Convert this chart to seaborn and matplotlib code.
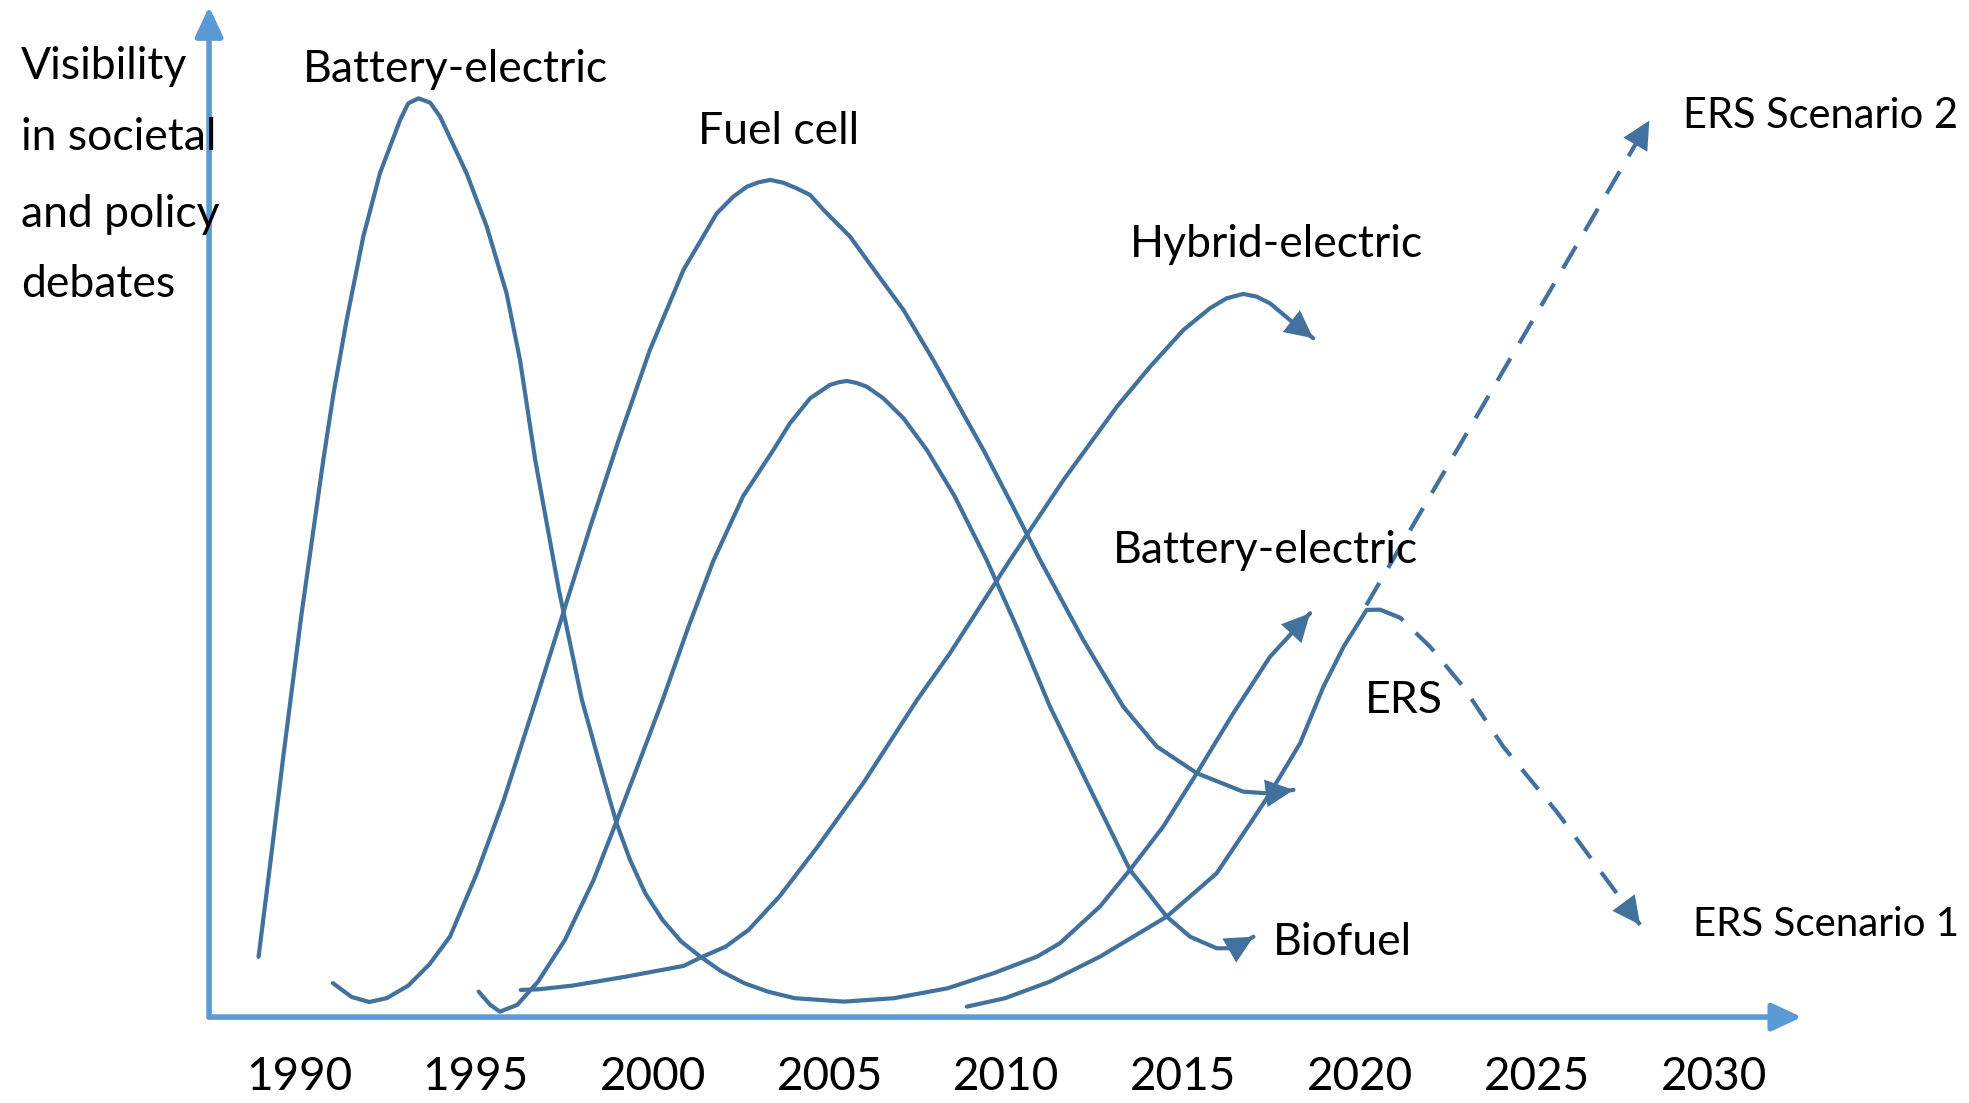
import matplotlib
matplotlib.use("Agg")
import matplotlib.pyplot as plt
import seaborn as sns
from matplotlib import font_manager

# Curves: year on x, "visibility" (0..100, arbitrary units) on y
battery_years = [1988.86, 1989.18, 1989.57, 1990.07, 1990.69, 1990.98, 1991.35, 1991.82, 1992.29, 1992.86,
                 1993.09, 1993.38, 1993.71, 1993.99, 1994.74, 1995.31, 1995.87, 1996.25, 1996.68, 1997.35,
                 1998.00, 1998.60, 1998.98, 1999.36, 1999.79, 2000.28, 2000.81, 2001.35, 2001.95, 2002.60,
                 2003.25, 2004.01, 2005.41, 2006.82, 2008.33, 2009.63, 2010.86, 2011.51, 2012.64, 2013.49,
                 2014.43, 2015.38, 2016.41, 2017.45, 2018.58]
battery_vis = [6.0, 15.0, 26.25, 40.0, 55.46, 62.1, 69.4, 77.69, 84.0, 89.3,
               90.96, 91.46, 91.03, 89.64, 84.0, 78.69, 72.05, 65.41, 55.46, 42.5,
               31.56, 23.94, 19.29, 15.64, 12.33, 9.66, 7.51, 6.01, 4.53, 3.36,
               2.54, 1.88, 1.54, 1.88, 2.86, 4.36, 6.01, 7.35, 11.0, 14.65,
               18.96, 24.28, 30.24, 35.88, 40.2]

fuel_cell_years = [1990.96, 1991.49, 1991.99, 1992.48, 1993.09, 1993.69, 1994.27, 1995.03, 1995.79, 1996.70,
                   1997.45, 1998.23, 1999.02, 1999.92, 2000.87, 2001.81, 2002.28, 2002.66, 2002.99, 2003.32,
                   2003.69, 2004.07, 2004.45, 2004.83, 2005.58, 2006.33, 2007.09, 2007.93, 2009.35, 2010.12,
                   2010.95, 2012.17, 2013.30, 2014.25, 2015.38, 2016.69, 2017.35, 2018.11]
fuel_cell_vis = [3.38, 2.0, 1.5, 1.88, 3.13, 5.25, 8.01, 14.31, 21.61, 31.56,
                 40.0, 48.75, 57.25, 66.41, 74.38, 80.01, 81.68, 82.66, 83.1, 83.34,
                 83.06, 82.5, 81.84, 80.35, 77.69, 74.04, 70.39, 65.41, 56.45, 51.25,
                 45.5, 37.54, 30.9, 26.93, 24.28, 22.44, 22.28, 22.61]

biofuel_years = [1995.08, 1995.40, 1995.68, 1996.17, 1996.76, 1997.52, 1998.33, 1998.92, 1999.57, 2000.28,
                 2001.00, 2001.71, 2002.56, 2003.41, 2003.88, 2004.45, 2005.01, 2005.25, 2005.49, 2005.77,
                 2006.05, 2006.52, 2007.09, 2007.75, 2008.53, 2009.44, 2010.30, 2011.23, 2012.36, 2013.49,
                 2014.53, 2015.19, 2015.94, 2016.41, 2016.98]
biofuel_vis = [2.54, 1.25, 0.54, 1.21, 3.53, 7.68, 13.65, 18.96, 24.93, 31.56,
               38.75, 45.38, 51.88, 56.45, 59.11, 61.6, 62.93, 63.19, 63.33, 63.12,
               62.76, 61.6, 59.61, 56.45, 51.88, 45.5, 38.75, 30.9, 22.75, 14.65,
               10.0, 8.0, 6.85, 6.85, 8.0]

hybrid_years = [1996.27, 1996.76, 1997.73, 1999.25, 2000.87, 2001.41, 2002.06, 2002.71, 2003.58, 2004.66,
                2005.95, 2007.47, 2008.40, 2010.10, 2011.61, 2013.12, 2014.06, 2015.00, 2015.75, 2016.22,
                2016.69, 2017.07, 2017.45, 2018.01, 2018.67]
hybrid_vis = [2.7, 2.76, 3.13, 4.03, 5.09, 6.01, 7.01, 8.68, 11.99, 16.96,
              23.28, 31.56, 36.21, 45.5, 53.46, 60.76, 64.75, 68.4, 70.56, 71.55,
              71.99, 71.72, 71.05, 69.4, 67.58]

ers_years = [2008.88, 2009.96, 2011.23, 2012.64, 2014.53, 2015.94, 2016.89, 2017.45, 2018.30, 2018.96,
             2019.53, 2020.18, 2020.56]
ers_vis = [1.04, 1.88, 3.53, 6.01, 10.0, 14.31, 19.29, 22.28, 27.26, 32.9,
           36.88, 40.53, 40.56]

scenario1_years = [2020.56, 2021.13, 2021.97, 2022.91, 2024.04, 2025.55, 2026.97, 2027.91]
scenario1_vis = [40.56, 39.75, 36.88, 32.9, 26.93, 20.45, 13.65, 9.18]

scenario2_years = [2020.17, 2028.17]
scenario2_vis = [41.0, 89.24]

tick_years = [1990, 1995, 2000, 2005, 2010, 2015, 2020, 2025, 2030]
tick_labels = [str(y) for y in tick_years]

LINE_COLOR = "#41719C"
AXIS_COLOR = "#5B9BD5"
DASHED = (0, (6.2, 4.2))

sns.set_style("white")

# Lato is the closest installed match to Calibri
available = {f.name for f in font_manager.fontManager.ttflist}
font_name = next((n for n in ["Lato", "Carlito", "Liberation Sans"] if n in available), "DejaVu Sans")
plt.rcParams["font.family"] = [font_name, "DejaVu Sans"]

fig = plt.figure(figsize=(19.69, 11.03), dpi=100)
fig.patch.set_facecolor("white")
# axes origin sits at the crossing of the two arrows
ax = fig.add_axes([0.1062, 0.0779, 0.8938, 0.9221])
ax.set_xlim(1987.462, 2037.206)
ax.set_ylim(0, 101.25)

curves = [
    (battery_years, battery_vis, "-", True),
    (fuel_cell_years, fuel_cell_vis, "-", True),
    (biofuel_years, biofuel_vis, "-", True),
    (hybrid_years, hybrid_vis, "-", True),
    (ers_years, ers_vis, "-", False),
    (scenario1_years, scenario1_vis, DASHED, True),
    (scenario2_years, scenario2_vis, DASHED, True),
]

head = dict(arrowstyle="-|>,head_length=1.0,head_width=0.5", mutation_scale=20,
            color=LINE_COLOR, lw=0, shrinkA=0, shrinkB=0)

for xs, ys, ls, with_head in curves:
    sns.lineplot(x=xs, y=ys, sort=False, estimator=None, ax=ax, color=LINE_COLOR,
                 linewidth=3.0, linestyle=ls, clip_on=False, zorder=3)
    if with_head:
        # arrow head points along the last segment of the curve
        ax.annotate("", xy=(xs[-1], ys[-1]), xytext=(xs[-2], ys[-2]),
                    arrowprops=head, annotation_clip=False, zorder=4)

# Axes drawn as arrows
axis_arrow = dict(arrowstyle="-|>,head_length=0.9,head_width=0.42", mutation_scale=20,
                  color=AXIS_COLOR, lw=4.0, shrinkA=0, shrinkB=0)
ax.annotate("", xy=(2032.48, 0), xytext=(1987.462, 0), arrowprops=axis_arrow,
            annotation_clip=False, zorder=2)
ax.annotate("", xy=(1987.462, 100.6), xytext=(1987.462, 0), arrowprops=axis_arrow,
            annotation_clip=False, zorder=2)

sns.despine(ax=ax, left=True, bottom=True)
ax.set_xticks(tick_years, labels=tick_labels)
ax.set_yticks([])
ax.tick_params(axis="x", length=0, pad=28, labelsize=33, colors="black")
ax.set_xlabel("")
ax.set_ylabel("")
ax.grid(False)

label_kw = dict(fontsize=32, color="black", ha="left", va="baseline")
ax.text(1990.11, 93.06, "Battery-electric", **label_kw)
ax.text(2001.29, 86.9, "Fuel cell", **label_kw)
ax.text(2013.49, 75.7, "Hybrid-electric", **label_kw)
ax.text(2013.0, 45.2, "Battery-electric", **label_kw)
ax.text(2020.12, 30.31, "ERS", **label_kw)
ax.text(2017.52, 6.19, "Biofuel", **label_kw)

scenario_texts = [
    ax.text(2029.13, 88.48, "ERS Scenario 2", **label_kw),
    ax.text(2029.41, 8.11, "ERS Scenario 1", **label_kw),
]

# y-axis title, one line at a time
for text, v in zip(["Visibility", "in societal", "and policy", "debates"], [93.35, 86.31, 78.69, 71.71]):
    ax.text(1982.14, v, text, **label_kw)

# shrink the scenario labels if they would run past the right edge
fig.canvas.draw()
renderer = fig.canvas.get_renderer()
for t in scenario_texts:
    while t.get_window_extent(renderer).x1 > fig.bbox.width - 8 and t.get_fontsize() > 20:
        t.set_fontsize(t.get_fontsize() - 0.5)

fig.savefig("out.png", dpi=100, facecolor="white")
plt.close(fig)
